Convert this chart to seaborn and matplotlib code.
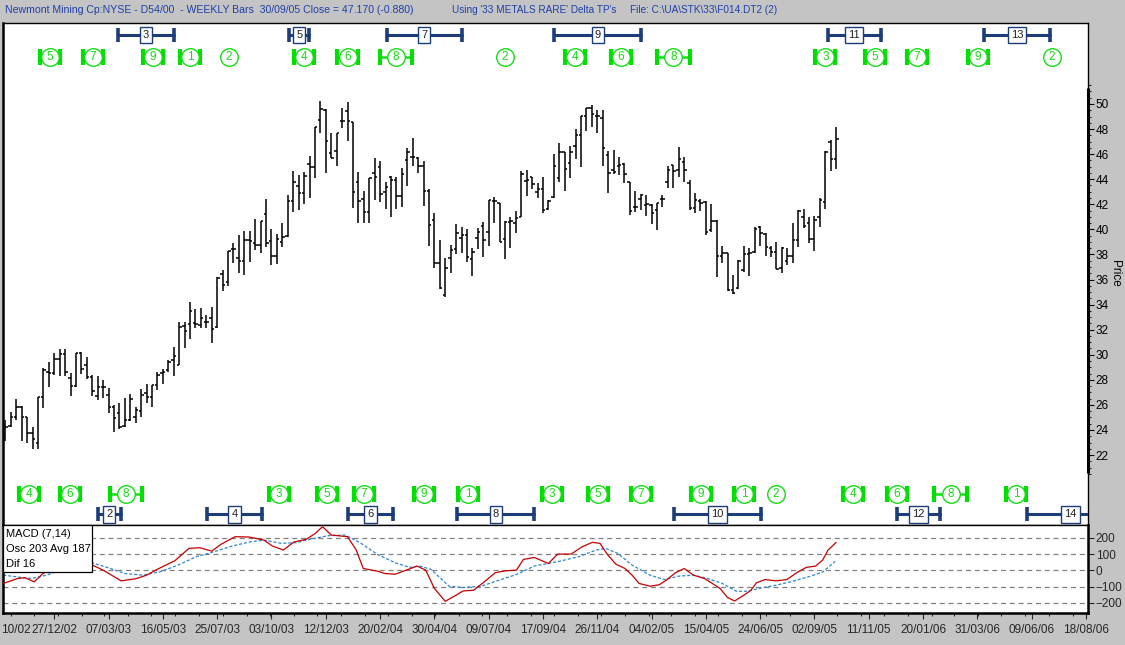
import numpy as np
import pandas as pd
import matplotlib
matplotlib.use("Agg")
import matplotlib.pyplot as plt
import seaborn as sns
from matplotlib.patches import Rectangle
from matplotlib.transforms import blended_transform_factory

# Weekly bars, week 0 = 25/10/02 ... week 153 = 30/09/05
opens = [23.5, 24.35, 25.07, 25.87, 25.0, 23.74, 22.94, 26.66, 28.66, 28.58,
         29.67, 30.07, 28.13, 27.54, 30.1, 29.19, 28.26, 26.72, 27.41, 26.8,
         25.87, 25.39, 24.33, 24.8, 25.07, 25.55, 26.93, 26.61, 27.6, 28.52,
         28.79, 29.59, 29.19, 32.3, 32.43, 32.51, 32.38, 32.65, 32.96, 32.19,
         36.42, 35.78, 38.44, 37.7, 37.48, 39.16, 38.89, 38.76, 41.2, 39.1,
         37.88, 39.02, 39.48, 42.27, 43.49, 42.88, 45.19, 45.0, 48.73, 49.52,
         46.07, 46.25, 48.65, 49.44, 48.54, 43.81, 42.4, 41.42, 44.47, 45.0,
         43.01, 44.21, 43.94, 42.67, 45.51, 45.8, 45.67, 45.06, 43.06, 40.75,
         37.35, 34.8, 37.75, 38.44, 39.34, 39.56, 37.62, 39.34, 40.27, 39.77,
         42.27, 42.08, 39.21, 40.62, 40.54, 40.97, 43.86, 44.15, 42.96, 43.2,
         41.6, 42.61, 44.13, 46.2, 45.27, 46.68, 47.53, 49.05, 49.66, 49.02,
         48.86, 45.94, 44.74, 45.08, 45.21, 43.75, 41.76, 42.45, 41.94, 41.94,
         41.54, 42.39, 43.8, 45.13, 44.73, 45.4, 43.67, 41.73, 42.26, 42.21,
         39.95, 40.67, 37.88, 38.09, 35.16, 35.35, 36.76, 38.01, 38.22, 40.16,
         39.63, 38.49, 38.22, 36.89, 37.5, 37.88, 39.15, 41.01, 40.48, 39.23,
         40.96, 42.21, 46.99, 45.58]
highs = [24.8, 25.47, 26.48, 25.95, 25.07, 24.27, 26.66, 28.92, 29.4, 30.12,
         30.44, 30.43, 28.53, 30.17, 30.2, 29.85, 28.39, 28.31, 28.0, 27.33,
         26.0, 26.13, 26.53, 26.88, 25.87, 27.25, 27.65, 27.6, 28.66, 28.87,
         29.59, 30.6, 32.65, 32.65, 34.24, 33.63, 33.71, 33.18, 33.79, 36.23,
         36.76, 38.31, 38.89, 39.56, 39.87, 39.87, 40.81, 40.67, 42.43, 40.01,
         39.64, 40.49, 42.75, 44.66, 44.34, 44.55, 45.88, 48.14, 50.24, 49.58,
         47.66, 47.72, 49.66, 50.19, 48.54, 44.55, 43.06, 44.13, 45.67, 45.46,
         43.81, 44.26, 44.21, 44.93, 46.47, 47.26, 45.75, 45.46, 43.2, 41.28,
         39.16, 37.7, 38.76, 40.41, 40.22, 40.03, 38.49, 40.14, 40.62, 42.32,
         42.61, 42.08, 40.67, 41.02, 41.47, 44.66, 44.74, 44.21, 43.73, 44.21,
         42.35, 46.02, 46.87, 46.2, 46.65, 48.01, 49.05, 49.66, 49.92, 49.52,
         49.52, 46.25, 46.33, 45.75, 45.32, 43.8, 43.06, 42.82, 42.74, 42.02,
         42.13, 42.74, 45.05, 45.13, 46.54, 45.74, 43.94, 42.87, 42.39, 42.26,
         41.99, 40.75, 38.67, 38.14, 36.36, 37.56, 38.7, 38.49, 40.16, 40.27,
         39.68, 38.7, 38.96, 38.62, 38.49, 40.48, 41.54, 41.6, 41.01, 41.06,
         42.47, 46.25, 47.13, 48.14]
lows = [23.15, 24.27, 24.8, 23.15, 23.0, 22.46, 22.49, 25.73, 27.46, 28.39,
        28.31, 28.3, 26.74, 27.46, 28.5, 28.05, 26.72, 26.4, 26.53, 25.33,
        23.87, 24.06, 24.27, 24.75, 24.59, 25.07, 26.13, 25.81, 27.2, 27.65,
        28.66, 28.31, 29.19, 30.52, 31.24, 32.11, 32.11, 32.11, 30.92, 32.11,
        35.12, 35.49, 37.35, 36.5, 36.37, 37.43, 38.36, 38.15, 38.63, 37.16,
        37.22, 38.63, 39.42, 41.42, 41.55, 42.05, 42.53, 44.07, 47.72, 44.47,
        45.67, 45.08, 48.06, 47.08, 41.68, 40.49, 40.49, 40.49, 42.35, 42.21,
        41.6, 41.02, 41.6, 41.82, 43.49, 45.08, 44.47, 41.9, 38.71, 36.95,
        35.22, 34.58, 36.5, 38.01, 38.15, 37.43, 36.31, 38.44, 37.83, 38.68,
        40.49, 38.97, 37.62, 38.49, 39.74, 40.97, 42.69, 43.22, 42.48, 41.28,
        41.55, 42.53, 43.81, 43.09, 44.13, 45.62, 45.0, 47.88, 48.14, 47.66,
        45.08, 42.93, 44.39, 44.34, 43.72, 41.14, 41.41, 41.54, 41.06, 40.43,
        39.95, 41.81, 43.27, 43.32, 44.2, 43.8, 41.54, 41.33, 41.49, 39.55,
        39.76, 36.17, 37.29, 35.11, 34.82, 35.22, 36.63, 36.28, 38.09, 38.7,
        37.9, 37.77, 36.81, 36.49, 37.16, 37.34, 38.62, 40.08, 38.88, 38.3,
        40.16, 41.6, 44.68, 44.79]
closes = [24.2, 25.07, 25.87, 25.0, 23.74, 23.26, 26.66, 28.79, 28.58, 29.67,
          30.07, 28.6, 27.54, 30.1, 28.9, 28.21, 27.14, 27.41, 27.41, 25.81,
          24.99, 24.27, 24.8, 26.45, 25.6, 26.8, 26.61, 27.6, 28.39, 28.66,
          29.45, 29.91, 32.19, 31.93, 33.52, 32.43, 32.96, 32.65, 32.03, 36.15,
          35.57, 38.28, 38.44, 37.48, 39.16, 39.1, 38.76, 40.67, 38.94, 37.88,
          39.21, 39.42, 42.27, 43.76, 42.88, 44.26, 45.0, 48.14, 49.6, 47.05,
          45.72, 47.72, 48.65, 48.65, 43.01, 42.27, 41.42, 44.07, 44.21, 42.8,
          43.41, 43.94, 42.67, 44.42, 46.15, 45.8, 45.06, 43.06, 40.35, 37.35,
          35.3, 36.9, 38.36, 39.69, 39.56, 37.83, 38.23, 39.77, 39.16, 42.32,
          42.27, 39.02, 40.62, 40.67, 40.89, 44.39, 43.94, 43.6, 43.22, 41.55,
          42.27, 45.06, 46.2, 44.82, 46.2, 47.53, 49.05, 49.66, 49.18, 49.02,
          46.47, 44.53, 44.61, 45.14, 44.41, 41.49, 41.76, 42.74, 42.02, 41.33,
          42.07, 42.39, 44.73, 44.68, 45.58, 44.73, 41.68, 42.34, 42.13, 39.82,
          40.67, 37.88, 38.09, 35.16, 34.95, 37.5, 38.01, 38.09, 40.0, 39.68,
          38.62, 38.22, 36.81, 38.49, 37.88, 39.15, 41.49, 40.27, 39.2, 40.75,
          42.34, 46.19, 45.61, 47.17]

# MACD (7,14) oscillator and its average
osc_weeks = [-0.4, 2.3, 3.6, 5.3, 6.9, 9.5, 12.5, 15.0, 16.0, 18.0,
             21.3, 24.0, 26.0, 27.9, 31.2, 33.8, 35.8, 38.0, 39.7, 42.3,
             44.9, 47.6, 49.2, 51.2, 53.1, 55.4, 57.1, 58.4, 60.0, 63.0,
             64.6, 65.9, 68.5, 69.9, 71.8, 73.8, 75.8, 77.4, 79.0, 81.0,
             83.0, 84.3, 86.2, 88.2, 90.2, 92.1, 94.1, 95.4, 97.4, 100.0,
             101.7, 104.2, 106.2, 108.1, 109.5, 110.8, 112.4, 114.1, 115.4, 116.7,
             118.7, 120.4, 121.7, 123.4, 125.0, 126.7, 128.7, 130.0, 131.6, 133.0,
             134.3, 136.0, 137.3, 138.3, 139.9, 141.9, 143.9, 145.9, 147.5, 149.2,
             150.5, 151.5, 153.0]
osc_vals = [-80, -49, -45, -70, -19, 20, 45, 50, 33, 2,
            -64, -51, -29, 6, 60, 136, 140, 119, 161, 208,
            206, 187, 150, 126, 175, 192, 229, 270, 218, 208,
            126, 12, -4, -19, -23, 2, 27, 2, -111, -190,
            -152, -126, -122, -70, -14, -2, 2, 68, 80, 43,
            101, 101, 146, 173, 167, 101, 39, 12, -29, -80,
            -97, -88, -60, -14, 12, -29, -49, -76, -111, -167,
            -188, -152, -122, -76, -56, -64, -56, -10, 19, 27,
            64, 126, 173]
avg_weeks = [-0.4, 3.0, 4.9, 7.6, 10.0, 13.0, 16.0, 18.7, 22.0, 25.3,
             28.5, 31.8, 35.1, 38.4, 41.7, 44.9, 47.6, 50.8, 53.5, 56.1,
             59.4, 62.6, 65.3, 68.5, 71.8, 74.4, 76.4, 78.4, 81.7, 84.3,
             87.6, 90.9, 94.1, 97.4, 101.7, 105.5, 108.8, 110.5, 112.8, 115.4,
             118.7, 121.4, 124.0, 126.7, 129.3, 132.0, 134.6, 136.6, 139.3, 141.9,
             144.6, 147.9, 150.5, 152.8]
avg_vals = [-29, -43, -49, -29, 0, 30, 47, 19, -19, -29,
            -8, 33, 84, 115, 150, 175, 187, 167, 171, 192,
            214, 218, 171, 99, 47, 19, 27, 6, -97, -105,
            -97, -60, -25, 27, 54, 84, 126, 136, 105, 33,
            -29, -56, -35, -29, -49, -80, -128, -128, -107, -91,
            -70, -39, -10, 56]
macd_levels = [-200, -100, 0, 100, 200]

# date axis labels (every 10 weeks); the first one is cut by the window edge
date_labels = ['27/12/02', '07/03/03', '16/05/03', '25/07/03',
               '03/10/03', '12/12/03', '20/02/04', '30/04/04', '09/07/04',
               '17/09/04', '26/11/04', '04/02/05', '15/04/05', '24/06/05',
               '02/09/05', '11/11/05', '20/01/06', '31/03/06', '09/06/06',
               '18/08/06']
date_weeks = list(range(9, 200, 10))
first_label = '10/02'

# cycle turning-point markers (week, half window in weeks)
top_box_labels = ['3', '5', '7', '9', '11', '13']
top_box_weeks = [25.9, 54.1, 77.1, 109.1, 156.3, 186.3]
top_box_spans = [5.1, 1.85, 6.9, 8.0, 4.9, 6.0]
bot_box_labels = ['2', '4', '6', '8', '10', '12', '14']
bot_box_weeks = [19.1, 42.2, 67.2, 90.3, 131.1, 168.2, 196.1]
bot_box_spans = [2.1, 5.1, 4.1, 7.1, 8.0, 4.0, 8.0]
top_circ_labels = ['5', '7', '9', '1', '2', '4', '6', '8', '2',
                   '4', '6', '8', '3', '5', '7', '9', '2']
top_circ_weeks = [8.2, 16.1, 27.2, 34.0, 41.2, 55.0, 63.0, 71.9, 92.0,
                  104.9, 113.3, 123.0, 151.0, 160.1, 167.9, 179.1, 192.7]
top_circ_spans = [1.85, 1.85, 1.85, 1.85, 0, 1.85, 1.85, 3.0, 0,
                  1.85, 1.85, 3.0, 1.85, 1.85, 1.85, 1.85, 0]
bot_circ_labels = ['4', '6', '8', '3', '5', '7', '9', '1', '3',
                   '5', '7', '9', '1', '2', '4', '6', '8', '1']
bot_circ_weeks = [4.3, 11.9, 22.2, 50.3, 59.2, 66.0, 77.1, 85.2, 100.7,
                  109.1, 117.0, 128.1, 136.1, 141.9, 156.1, 164.2, 174.1, 186.1]
bot_circ_spans = [1.85, 1.85, 3.0, 1.85, 1.85, 1.85, 1.85, 1.85, 1.85,
                  1.85, 1.85, 1.85, 1.85, 0, 1.85, 1.85, 3.0, 1.85]

# ---- style ----
sns.set_style("white")
plt.rcParams['font.family'] = ['Liberation Sans', 'DejaVu Sans']
BG = '#c4c4c4'
GREEN = '#16dc16'
NAVY = '#1c3d78'
TITLE_BLUE = '#1f3fa8'
W, H = 1125, 645

fig = plt.figure(figsize=(W / 100, H / 100), dpi=100)
fig.patch.set_facecolor(BG)
ax = fig.add_axes([3 / W, 120 / H, 1085 / W, 502 / H])
ax2 = fig.add_axes([3 / W, 32 / H, 1085 / W, 88 / H])
xmin, xmax = -0.4475, 199.37

# ---- price bars ----
weeks = np.arange(len(closes))
ax.vlines(weeks, lows, highs, color='black', lw=1.1)
ax.hlines(opens, weeks - 0.45, weeks, color='black', lw=1.1)
ax.hlines(closes, weeks, weeks + 0.45, color='black', lw=1.1)
ax.set_xlim(xmin, xmax)
ax.set_ylim(16.42, 56.46)
ax.set_facecolor('white')
ax.set_xticks([])
ax.yaxis.tick_right()
ax.set_yticks(np.arange(22, 51, 2))
ax.set_yticks(np.arange(20.5, 51.6, 0.5), minor=True)
ax.tick_params(axis='y', which='major', length=4, width=0.8, pad=1.5,
               labelsize=8.5, colors='black', right=True)
ax.tick_params(axis='y', which='minor', length=2, width=0.8, right=True)
for sp in ax.spines.values():
    sp.set_color('black')
    sp.set_linewidth(1.0)
ax.spines['left'].set_linewidth(1.8)
trans_yr = blended_transform_factory(ax.transAxes, ax.transData)
ax.plot([1, 1], [20.6, 51.3], transform=trans_yr, color='black', lw=2.2,
        clip_on=False, solid_capstyle='butt')
fig.text(1115 / W, 1 - 273 / H, 'Price', rotation=270, ha='center',
         va='center', fontsize=8.5, color='black')

# ---- cycle markers ----
trans = blended_transform_factory(ax.transData, ax.transAxes)


def draw_boxes(labels, wks, spans, yfrac):
    for lab, wk, sp in zip(labels, wks, spans):
        ax.plot([wk - sp, wk + sp], [yfrac, yfrac], transform=trans,
                color=NAVY, lw=2.2, zorder=3)
        ax.plot([wk - sp, wk + sp], [yfrac, yfrac], transform=trans,
                color=NAVY, lw=0, marker='|', ms=10, mew=2.6, zorder=3)
        ax.text(wk, yfrac, lab, transform=trans, ha='center', va='center',
                fontsize=8, color='#222222', zorder=5,
                bbox=dict(boxstyle='square,pad=0.28', fc='white', ec=NAVY, lw=1.0))


def draw_circles(labels, wks, spans, yfrac):
    for lab, wk, sp in zip(labels, wks, spans):
        if sp > 0:
            ax.plot([wk - sp, wk + sp], [yfrac, yfrac], transform=trans,
                    color=GREEN, lw=1.8, zorder=3)
            ax.plot([wk - sp, wk + sp], [yfrac, yfrac], transform=trans,
                    color='#00e000', lw=0, marker='|', ms=11, mew=3.0, zorder=3)
        ax.scatter([wk], [yfrac], transform=trans, s=160, marker='o',
                   facecolor='white', edgecolor=GREEN, linewidth=1.0, zorder=4)
        ax.text(wk, yfrac, lab, transform=trans, ha='center', va='center',
                fontsize=8.5, color=GREEN, zorder=5)


draw_boxes(top_box_labels, top_box_weeks, top_box_spans, 0.976)
draw_circles(top_circ_labels, top_circ_weeks, top_circ_spans, 0.932)
draw_circles(bot_circ_labels, bot_circ_weeks, bot_circ_spans, 0.062)
draw_boxes(bot_box_labels, bot_box_weeks, bot_box_spans, 0.021)

# ---- MACD panel ----
ax2.set_facecolor('white')
for lvl in macd_levels:
    ax2.axhline(lvl, color='#808080', lw=0.9, ls=(0, (4, 3)), zorder=1)
sns.lineplot(x=avg_weeks, y=avg_vals, ax=ax2, color='#2f86d0', lw=0.9,
             ls=(0, (2.5, 1.5)), estimator=None, zorder=2)
sns.lineplot(x=osc_weeks, y=osc_vals, ax=ax2, color='#c40000', lw=0.9,
             estimator=None, zorder=3)
ax2.set_xlim(xmin, xmax)
ax2.set_ylim(-262, 280)
ax2.yaxis.tick_right()
ax2.set_yticks(macd_levels)
ax2.tick_params(axis='y', length=4, width=0.8, pad=1.5, labelsize=8.5, right=True)
ax2.set_xticks(date_weeks)
ax2.set_xticklabels(date_labels)
month_starts = pd.date_range('2002-11-01', '2006-08-01', freq='MS')
ax2.set_xticks((month_starts - pd.Timestamp('2002-10-25')).days / 7, minor=True)
ax2.tick_params(axis='x', which='major', length=4, width=0.8, pad=4,
                labelsize=8.5, bottom=True)
ax2.tick_params(axis='x', which='minor', length=2.5, width=0.8, bottom=True)
ax2.set_xlabel('')
ax2.set_ylabel('')
for sp in ax2.spines.values():
    sp.set_color('black')
    sp.set_linewidth(1.0)
ax2.spines['left'].set_linewidth(1.8)
ax2.spines['bottom'].set_linewidth(1.8)
ax2.spines['right'].set_linewidth(1.8)
fig.text(1 / W, 1 - 630 / H, first_label, ha='left', va='center', fontsize=8.5)

# legend box of the oscillator
ax2.add_patch(Rectangle((0, 0.466), 0.082, 0.534, transform=ax2.transAxes,
                        fc='white', ec='black', lw=0.9, zorder=6))
for txt, yy in zip(['MACD (7,14)', 'Osc 203 Avg 187', 'Dif 16'],
                   [0.895, 0.727, 0.557]):
    ax2.text(0.003, yy, txt, transform=ax2.transAxes, ha='left', va='center',
             fontsize=8, color='black', zorder=7)

# ---- title strip ----
fig.text(5 / W, 1 - 10 / H,
         'Newmont Mining Cp:NYSE - D54/00  - WEEKLY Bars  30/09/05 Close = 47.170 (-0.880)',
         color=TITLE_BLUE, fontsize=7.6, ha='left', va='center')
fig.text(452 / W, 1 - 10 / H, "Using '33 METALS RARE' Delta TP's",
         color=TITLE_BLUE, fontsize=7.2, ha='left', va='center')
fig.text(630 / W, 1 - 10 / H, r"File: C:\UA\STK\33\F014.DT2 (2)",
         color=TITLE_BLUE, fontsize=7.2, ha='left', va='center')

fig.savefig('out.png', dpi=100, facecolor=BG)
